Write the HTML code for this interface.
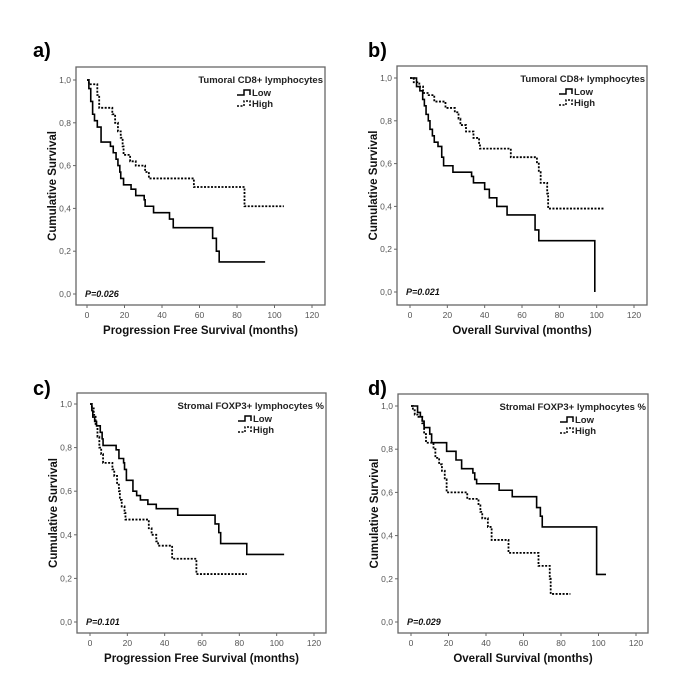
<!DOCTYPE html>
<html><head><meta charset="utf-8"><style>
body{margin:0;background:#fff;}
svg{display:block;font-family:"Liberation Sans",Arial,sans-serif;}
</style></head><body>
<svg id="fig" width="700" height="689" viewBox="0 0 700 689"></svg>
<script>
// ---- data ----
const aLow=[[0,1],[1,0.96],[2,0.9],[3,0.84],[4,0.81],[5.5,0.78],[7.5,0.71],[12.5,0.69],[14,0.66],[15.5,0.63],[16.5,0.6],[17.5,0.57],[18,0.54],[19.5,0.51],[23.5,0.49],[26,0.46],[30.5,0.44],[31,0.41],[35.5,0.38],[44,0.35],[46,0.31],[67,0.26],[69,0.2],[70.5,0.15]];
const aLowEnd=95;
const aHigh=[[0,1],[1,0.98],[5.5,0.93],[6.5,0.87],[13.5,0.84],[15,0.8],[16.5,0.76],[18,0.73],[19,0.69],[19.5,0.65],[23,0.62],[26,0.6],[31,0.57],[33,0.54],[57,0.5],[84,0.41]];
const aHighEnd=105;
const bLow=[[0,1],[3.5,0.96],[5.3,0.94],[6.8,0.9],[7.7,0.87],[8.6,0.83],[9.8,0.8],[10.7,0.76],[12,0.73],[13,0.7],[15,0.68],[17,0.63],[18,0.59],[23,0.56],[33,0.54],[34,0.51],[40,0.48],[42.5,0.44],[46.5,0.4],[52,0.36],[67,0.29],[69,0.24],[99,0.0]];
const bLowEnd=99;
const bHigh=[[0,1],[2,0.98],[5,0.96],[7,0.93],[10,0.92],[13,0.89],[19,0.86],[24,0.84],[26,0.81],[27,0.78],[30,0.75],[34,0.72],[37,0.69],[37.5,0.67],[54,0.63],[68,0.6],[69,0.56],[70,0.51],[73.5,0.46],[74,0.39]];
const bHighEnd=104;
const cLow=[[0,1],[1,0.97],[1.5,0.94],[2.5,0.92],[3.5,0.9],[5.5,0.87],[6.5,0.84],[7,0.81],[14,0.79],[15.5,0.75],[18,0.73],[18.5,0.7],[19.5,0.65],[23,0.6],[25,0.58],[27,0.56],[31,0.54],[35.5,0.52],[47,0.49],[67,0.45],[69,0.41],[70,0.36],[84,0.31]];
const cLowEnd=104;
const cHigh=[[0,1],[1,0.98],[2,0.95],[3,0.9],[4,0.85],[5,0.8],[6,0.77],[7,0.73],[12,0.7],[13,0.67],[14.5,0.63],[15.5,0.6],[16,0.56],[17,0.53],[18.5,0.5],[19,0.47],[31.5,0.43],[33,0.4],[35.5,0.37],[36.5,0.35],[44,0.29],[57,0.22]];
const cHighEnd=84;
const dLow=[[0,1],[3.5,0.97],[5,0.95],[6,0.93],[7,0.9],[10,0.87],[11,0.83],[19,0.79],[24,0.75],[27,0.71],[33,0.69],[34,0.66],[35,0.64],[47,0.61],[54,0.58],[67,0.53],[69,0.49],[70,0.44],[99,0.22]];
const dLowEnd=104;
const dHigh=[[0,1],[1,0.98],[2,0.96],[4,0.95],[6,0.92],[7,0.87],[8,0.83],[12,0.8],[13,0.76],[15,0.73],[16.5,0.7],[18,0.66],[19,0.6],[30,0.57],[36,0.54],[37,0.51],[38,0.48],[41,0.44],[43,0.38],[52,0.32],[68,0.26],[74,0.2],[74.5,0.13]];
const dHighEnd=85;
const xTicks=[0,20,40,60,80,100,120];
const yTicks=[0,0.2,0.4,0.6,0.8,1.0];
const yTickLabels=["0,0","0,2","0,4","0,6","0,8","1,0"];
// ---- layout ----
const panels=[
 {id:'a',lab:'a)',lx:33,ly:57,box:[76,67,325,305],x0:87,x1:312,y1:80,y0:294,title:'Tumoral CD8+ lymphocytes',xl:'Progression Free Survival (months)',p:'P=0.026',low:aLow,lowEnd:aLowEnd,high:aHigh,highEnd:aHighEnd},
 {id:'b',lab:'b)',lx:368,ly:57,box:[397,66,647,305],x0:410,x1:634,y1:78,y0:292,title:'Tumoral CD8+ lymphocytes',xl:'Overall Survival (months)',p:'P=0.021',low:bLow,lowEnd:bLowEnd,high:bHigh,highEnd:bHighEnd},
 {id:'c',lab:'c)',lx:33,ly:395,box:[77,393,326,633],x0:90,x1:314,y1:404,y0:622,title:'Stromal FOXP3+ lymphocytes %',xl:'Progression Free Survival (months)',p:'P=0.101',low:cLow,lowEnd:cLowEnd,high:cHigh,highEnd:cHighEnd},
 {id:'d',lab:'d)',lx:368,ly:395,box:[398,394,648,633],x0:411,x1:636,y1:406,y0:622,title:'Stromal FOXP3+ lymphocytes %',xl:'Overall Survival (months)',p:'P=0.029',low:dLow,lowEnd:dLowEnd,high:dHigh,highEnd:dHighEnd}
];
const NS='http://www.w3.org/2000/svg';
const svg=document.getElementById('fig');
function mk(tag,attrs,parent,text){const e=document.createElementNS(NS,tag);for(const k in attrs)e.setAttribute(k,attrs[k]);if(text!==undefined)e.textContent=text;(parent||svg).appendChild(e);return e;}
function stepPath(pts,end,sx,sy){let d='M'+sx(pts[0][0])+','+sy(pts[0][1]);for(let i=1;i<pts.length;i++){d+=' H'+sx(pts[i][0])+' V'+sy(pts[i][1]);}d+=' H'+sx(end);return d;}
panels.forEach(P=>{
 const g=mk('g',{});
 
 
 const sx=v=>P.x0+(v/120)*(P.x1-P.x0);
 const sy=v=>P.y0-v*(P.y0-P.y1);
 const [L,T,R,B]=P.box;
 const pl=mk('text',{x:P.lx,y:P.ly,'font-size':20,'font-weight':'bold',fill:'#000'},g,P.lab);
 
 
 const box=mk('rect',{x:L,y:T,width:R-L,height:B-T,fill:'none',stroke:'#666','stroke-width':1.3},g);
 
 
 yTicks.forEach((v,i)=>{
  mk('line',{x1:L-3,x2:L,y1:sy(v),y2:sy(v),stroke:'#666'},g);
  const t=mk('text',{x:L-5,y:sy(v)+3,'font-size':8.5,'text-anchor':'end',fill:'#555'},g,yTickLabels[i]);
  
  
 });
 xTicks.forEach(v=>{
  mk('line',{x1:sx(v),x2:sx(v),y1:B,y2:B+3,stroke:'#666'},g);
  const t=mk('text',{x:sx(v),y:B+13,'font-size':8.5,'text-anchor':'middle',fill:'#555'},g,String(v));
  
  
 });
 const xt=mk('text',{x:(L+R)/2,y:B+29,'font-size':11.5,'font-weight':'bold','text-anchor':'middle',fill:'#111'},g,P.xl);
 
 
 const cy=(T+B)/2;
 const yt=mk('text',{x:53,y:cy,'font-size':11.5,'font-weight':'bold','text-anchor':'middle',fill:'#111',transform:'rotate(-90 '+(L-24)+' '+cy+')'},g,'Cumulative Survival');
 yt.setAttribute('x',L-24);yt.setAttribute('y',cy+4);
 
 
 const pv=mk('text',{x:L+9,y:sy(0)+3,'font-size':9,'font-weight':'bold','font-style':'italic',fill:'#111'},g,P.p);
 
 
 const lt=mk('text',{x:R-2,y:T+16,'font-size':9.5,'font-weight':'bold','text-anchor':'end',fill:'#222'},g,P.title);
 
 
 const lx=R-88, ly1=T+28, ly2=T+39;
 const le1=mk('g',{},g);
 
 
 mk('path',{d:`M${lx},${ly1} H${lx+7} V${ly1-5} H${lx+13} V${ly1}`,fill:'none',stroke:'#000','stroke-width':1.5},le1);
 mk('text',{x:lx+15,y:ly1+1,'font-size':9.5,'font-weight':'bold',fill:'#222'},le1,'Low');
 const le2=mk('g',{},g);
 
 
 mk('path',{d:`M${lx},${ly2} H${lx+7} V${ly2-5} H${lx+13} V${ly2}`,fill:'none',stroke:'#000','stroke-width':1.5,'stroke-dasharray':'2,1.5'},le2);
 mk('text',{x:lx+15,y:ly2+1,'font-size':9.5,'font-weight':'bold',fill:'#222'},le2,'High');
 const lo=mk('path',{d:stepPath(P.low,P.lowEnd,sx,sy),fill:'none',stroke:'#000','stroke-width':1.6},g);
 
 
 const hi=mk('path',{d:stepPath(P.high,P.highEnd,sx,sy),fill:'none',stroke:'#000','stroke-width':1.8,'stroke-dasharray':'2,1.5'},g);
 
 
});
</script>
</body></html>
